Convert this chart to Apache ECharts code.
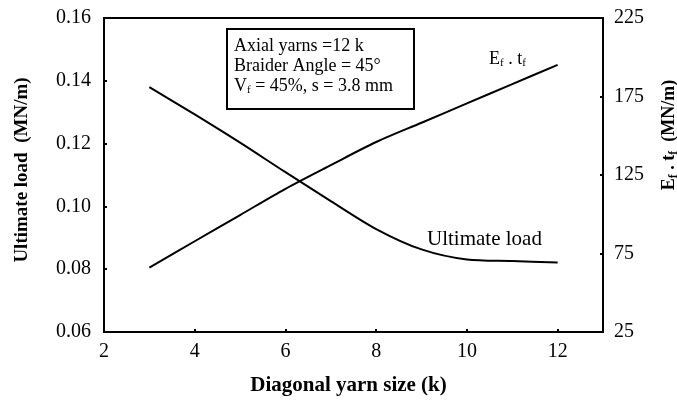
<!DOCTYPE html>
<html>
<head>
<meta charset="utf-8">
<script src="https://cdn.jsdelivr.net/npm/echarts@6/dist/echarts.min.js"></script>
<style>
html,body{margin:0;padding:0;background:#fff;}
#chart{width:677px;height:404px;}
</style>
</head>
<body>
<div id="chart"></div>
<script>
// Diagonal yarn size (k)
const yarnSize = [3, 4, 5, 6, 7, 8, 9, 10, 11, 12];
// Ultimate load (MN/m), left axis
const ultimateLoad = [0.138, 0.1293, 0.1203, 0.1109, 0.1017, 0.0928, 0.0863, 0.0831, 0.0826, 0.0821];
// Ef . tf (MN/m), right axis
const efTf = [66, 82.8, 99.5, 116.2, 131.3, 146, 158.3, 170.6, 182.9, 195.1];

const xTicks = [2, 4, 6, 8, 10, 12];
const leftTicks = [0.06, 0.08, 0.10, 0.12, 0.14, 0.16];
const rightTicks = [25, 75, 125, 175, 225];

const serif = '"Liberation Serif", "DejaVu Serif", serif';

const chart = echarts.init(document.getElementById('chart'));

const subStyle = { fontFamily: serif, fontSize: 11, padding: [9, 0, 0, 0], color: '#000' };

chart.setOption({
  animation: false,
  backgroundColor: '#fff',
  grid: { left: 104, right: 74, top: 18, bottom: 72, show: true, borderColor: '#000', borderWidth: 2,
    containLabel: false, outerBoundsMode: 'none' },
  xAxis: {
    type: 'value', min: 2, max: 13, interval: 2,
    name: 'Diagonal yarn size (k)', nameLocation: 'middle', nameGap: 43,
    nameTextStyle: { fontFamily: serif, fontSize: 21, fontWeight: 'bold', color: '#000', padding: [0, 10, 0, 0] },
    axisLine: { lineStyle: { color: '#000', width: 2 } },
    axisTick: { inside: true, length: 3, lineStyle: { color: '#000', width: 2 } },
    axisLabel: { fontFamily: serif, fontSize: 20, color: '#000', margin: 10,
      formatter: v => (xTicks.includes(v) ? String(v) : '') },
    splitLine: { show: false }
  },
  yAxis: [
    {
      type: 'value', min: 0.06, max: 0.16, interval: 0.02, position: 'left',
      name: 'Ultimate load  (MN/m)', nameLocation: 'middle', nameGap: 72, nameRotate: 90,
      nameTextStyle: { fontFamily: serif, fontSize: 19, fontWeight: 'bold', color: '#000', padding: [0, 0, 0, 10] },
      axisLine: { show: true, lineStyle: { color: '#000', width: 2 } },
      axisTick: { show: true, inside: true, length: 3, lineStyle: { color: '#000', width: 2 } },
      axisLabel: { fontFamily: serif, fontSize: 20, color: '#000', margin: 13,
        formatter: v => { const t = leftTicks.find(k => Math.abs(k - v) < 1e-9); return t === undefined ? '' : t.toFixed(2); } },
      splitLine: { show: false }
    },
    {
      type: 'value', min: 25, max: 225, interval: 50, position: 'right',
      name: '{b|E}{s|f}{b| . t}{s|f}{b|  (MN/m)}', nameLocation: 'middle', nameGap: 56, nameRotate: 90,
      nameTextStyle: { fontFamily: serif, fontSize: 18, fontWeight: 'bold', color: '#000', padding: [0, 0, 0, 80],
        rich: {
          b: { fontFamily: serif, fontSize: 18, fontWeight: 'bold', color: '#000' },
          s: { fontFamily: serif, fontSize: 12, fontWeight: 'bold', color: '#000', padding: [9, 0, 0, 0] }
        } },
      axisLine: { show: true, lineStyle: { color: '#000', width: 2 } },
      axisTick: { show: true, inside: true, length: 3, lineStyle: { color: '#000', width: 2 } },
      axisLabel: { fontFamily: serif, fontSize: 20, color: '#000', margin: 11,
        formatter: v => (rightTicks.includes(v) ? String(v) : '') },
      splitLine: { show: false }
    }
  ],
  series: [
    {
      name: 'Ultimate load', type: 'line', yAxisIndex: 0, smooth: 0.3, symbol: 'none',
      lineStyle: { color: '#000', width: 2 },
      data: yarnSize.map((x, i) => [x, ultimateLoad[i]])
    },
    {
      name: 'Ef . tf', type: 'line', yAxisIndex: 1, smooth: 0.3, symbol: 'none',
      lineStyle: { color: '#000', width: 2 },
      data: yarnSize.map((x, i) => [x, efTf[i]])
    }
  ],
  graphic: [
    {
      type: 'rect', left: 226, top: 28,
      shape: { width: 187, height: 80 },
      style: { fill: '#fff', stroke: '#000', lineWidth: 2 }
    },
    {
      type: 'text', left: 234, top: 37,
      style: { text: 'Axial yarns =12 k', fontFamily: serif, fontSize: 18, fill: '#000' }
    },
    {
      type: 'text', left: 234, top: 57,
      style: { text: 'Braider Angle = 45°', fontFamily: serif, fontSize: 18, fill: '#000' }
    },
    {
      type: 'text', left: 234, top: 77,
      style: { text: 'V{s|f} = 45%, s = 3.8 mm', fontFamily: serif, fontSize: 18, fill: '#000', rich: { s: subStyle } }
    },
    {
      type: 'text', left: 489, top: 50,
      style: { text: 'E{s|f} . t{s|f}', fontFamily: serif, fontSize: 18, fill: '#000', rich: { s: subStyle } }
    },
    {
      type: 'text', left: 427, top: 229,
      style: { text: 'Ultimate load', fontFamily: serif, fontSize: 21, fill: '#000' }
    }
  ]
});
</script>
</body>
</html>
